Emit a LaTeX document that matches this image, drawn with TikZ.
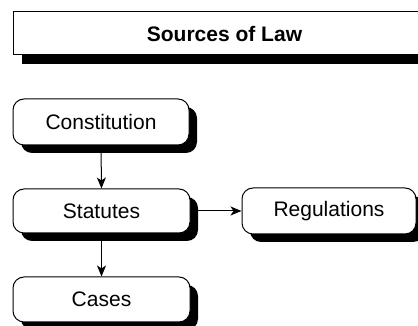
\documentclass[tikz,border=0pt]{standalone}
\usepackage{fontspec}
\setmainfont{Liberation Sans}
\usetikzlibrary{shadows,arrows.meta}
\begin{document}
\begin{tikzpicture}[x=1pt,y=1pt,
  box/.style={draw=black, line width=1pt, fill=white, rounded corners=11pt,
    font=\fontsize{21}{25}\selectfont, inner sep=0pt,
    drop shadow={shadow xshift=8pt, shadow yshift=-8pt, opacity=1, fill=black}},
  titlebox/.style={draw=black, line width=1pt, fill=white,
    font=\fontsize{21}{25}\selectfont\bfseries, inner sep=0pt,
    minimum width=423pt, minimum height=43pt,
    drop shadow={shadow xshift=9pt, shadow yshift=-9pt, opacity=1, fill=black}},
  arr/.style={draw=black, line width=1pt, -{Stealth[length=11pt,width=9pt,inset=3pt]}}]
\useasboundingbox (0,0) rectangle (418,326);
\node[titlebox] (title) at (224.5,292.5) {Sources of Law};
\node[box, minimum width=176pt, minimum height=46pt] (const) at (101,204) {Constitution};
\node[box, minimum width=177pt, minimum height=44pt] (stat) at (101.5,115) {Statutes};
\node[box, minimum width=177pt, minimum height=45pt] (cases) at (101.5,26.5) {Cases};
\node[box, minimum width=174pt, minimum height=46pt] (reg) at (329,115) {Regulations};
\draw[arr] (const.south) -- (stat.north);
\draw[arr] (stat.south) -- (cases.north);
\draw[arr] (stat.east) -- (reg.west);
\end{tikzpicture}
\end{document}
